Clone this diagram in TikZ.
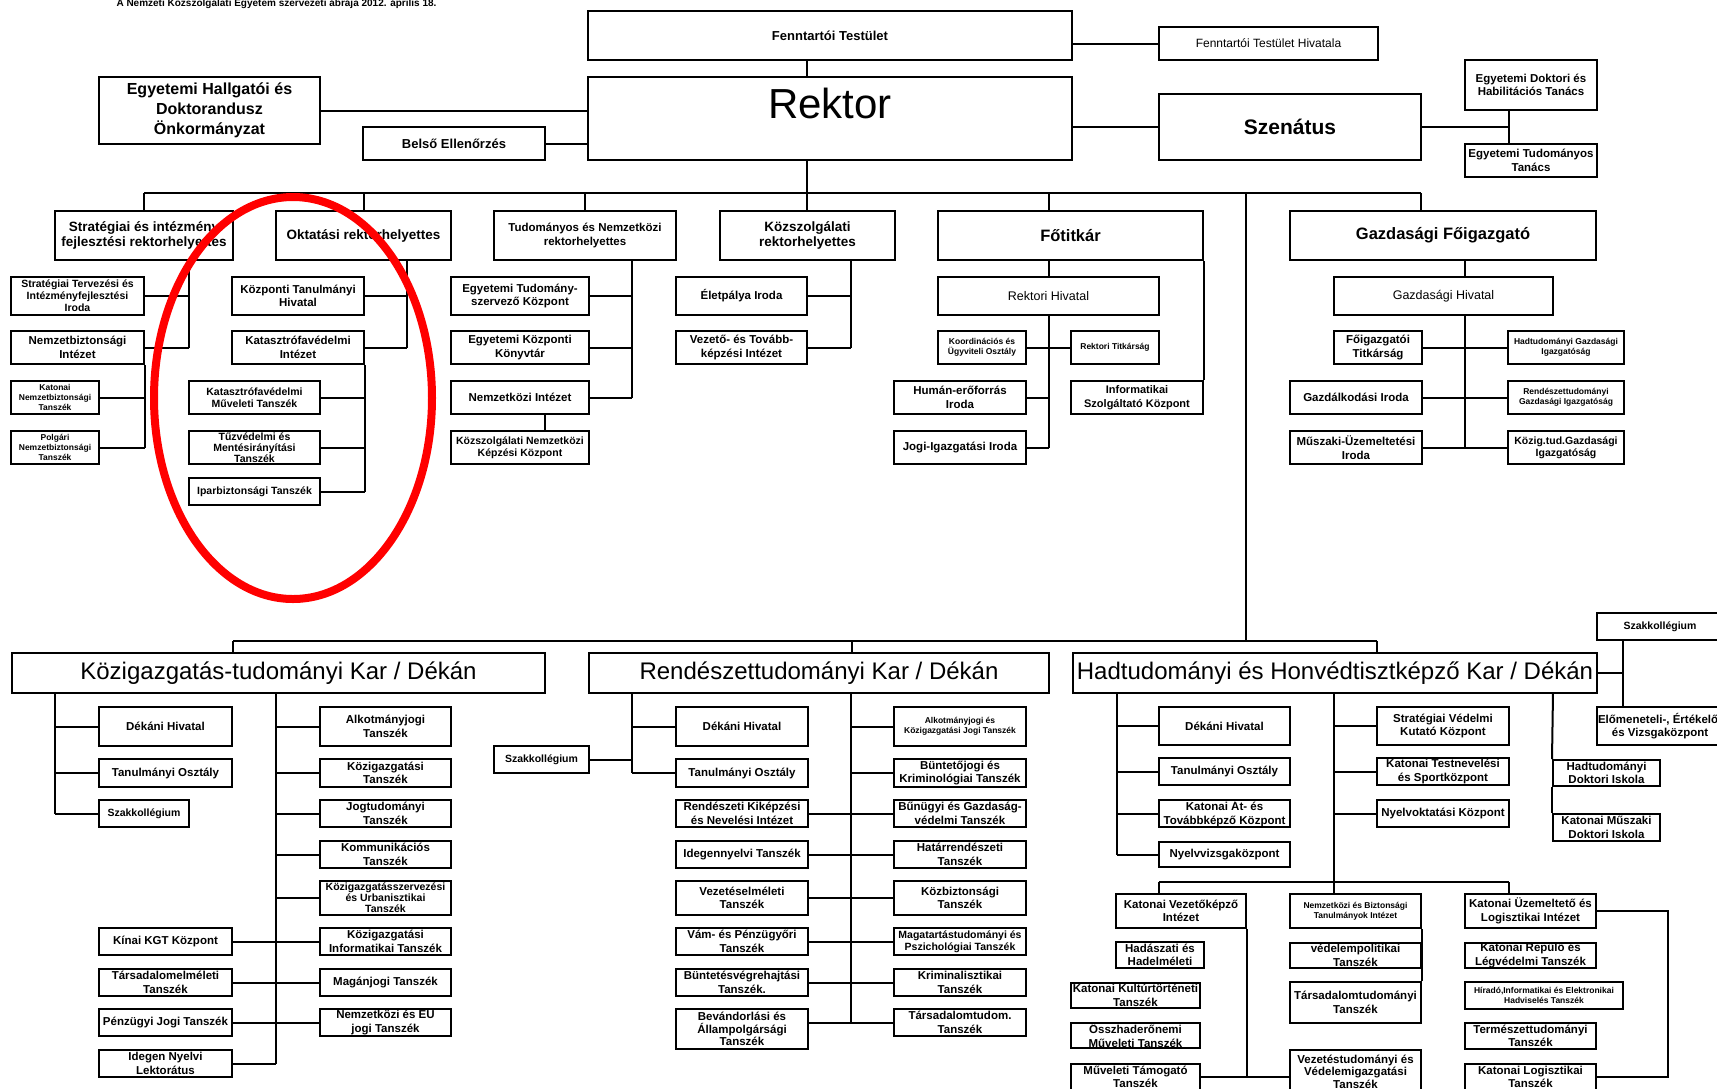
\documentclass[tikz,border=0pt]{standalone}
\usepackage{fontspec}
\setmainfont{Liberation Sans}

\begin{document}
\begin{tikzpicture}[x=1pt,y=-1pt,
  box/.style={draw,line width=2pt,inner sep=0.5pt,align=center,font=\bfseries\fontsize{11.5}{13.5}\selectfont},
  fsmall/.style={font=\bfseries\fontsize{10.5}{12}\selectfont},
  ftiny/.style={font=\bfseries\fontsize{8.5}{10}\selectfont},
  fplain/.style={font=\fontsize{12.5}{15}\selectfont},
  fkar/.style={font=\fontsize{24}{28}\selectfont},
  link/.style={line width=2pt}]
\useasboundingbox (0,0) rectangle (1717,1088);
\clip (0,0) rectangle (1717,1088);
\fill[white] (0,0) rectangle (1717,1088);

\node[font=\bfseries\fontsize{10}{12}\selectfont,anchor=base] (title) at (276.5,6.5) {A Nemzeti Közszolgálati Egyetem szervezeti ábrája 2012. április 18.};

% vezetes
\node[box,font=\bfseries\fontsize{13}{15}\selectfont,minimum width=484,minimum height=49] (fenn) at (830,35.5) {Fenntartói Testület};
\node[box,font=\fontsize{12}{14}\selectfont,minimum width=219,minimum height=33] (fennhiv) at (1268.5,43.5) {Fenntartói Testület Hivatala};
\node[box,font=\fontsize{42}{46}\selectfont,text height=30pt,text depth=30pt,minimum width=484,minimum height=83] (rektor) at (830,118.5) {Rektor};
\node[box,font=\bfseries\fontsize{21}{24}\selectfont,minimum width=262,minimum height=66] (szenatus) at (1290,127) {Szenátus};
\node[box,minimum width=132,minimum height=50] (doktori) at (1531,85) {Egyetemi Doktori és\\Habilitációs Tanács};
\node[box,minimum width=132,minimum height=33] (tudtanacs) at (1531,160.5) {Egyetemi Tudományos\\Tanács};
\node[box,font=\bfseries\fontsize{16}{20}\selectfont,minimum width=221,minimum height=67] (hallgatoi) at (209.5,110.5) {Egyetemi Hallgatói és\\Doktorandusz\\Önkormányzat};
\node[box,font=\bfseries\fontsize{13}{15}\selectfont,minimum width=182,minimum height=33] (belso) at (454,143.5) {Belső Ellenőrzés};

\node[box,font=\bfseries\fontsize{13.5}{15}\selectfont,minimum width=178,minimum height=49] (strat) at (144,235.5) {Stratégiai és intézmény\\fejlesztési rektorhelyettes};
\node[box,font=\bfseries\fontsize{13.5}{15}\selectfont,minimum width=175,minimum height=49] (oktatasi) at (363.5,235.5) {Oktatási rektorhelyettes};
\node[box,minimum width=182,minimum height=49] (tudnemz) at (585,235.5) {Tudományos és Nemzetközi\\rektorhelyettes};
\node[box,font=\bfseries\fontsize{13.5}{15}\selectfont,minimum width=175,minimum height=49] (kozszolg) at (807.5,235.5) {Közszolgálati\\rektorhelyettes};
\node[box,font=\bfseries\fontsize{16.5}{19}\selectfont,minimum width=265,minimum height=49] (fotitkar) at (1070.5,235.5) {Főtitkár};
\node[box,font=\bfseries\fontsize{16.5}{19}\selectfont,minimum width=306,minimum height=49] (gazd) at (1443,235.5) {Gazdasági Főigazgató};

\node[box,fsmall,minimum width=133,minimum height=38] (sti) at (77.5,296) {Stratégiai Tervezési és\\Intézményfejlesztési\\Iroda};
\node[box,minimum width=133,minimum height=33] (nbi) at (77.5,347.5) {Nemzetbiztonsági\\Intézet};
\node[box,ftiny,minimum width=88,minimum height=33] (knt) at (55,397.5) {Katonai\\Nemzetbiztonsági\\Tanszék};
\node[box,ftiny,minimum width=88,minimum height=33] (pnt) at (55,447.5) {Polgári\\Nemzetbiztonsági\\Tanszék};

\node[box,minimum width=132,minimum height=38] (kth) at (298,296) {Központi Tanulmányi\\Hivatal};
\node[box,minimum width=132,minimum height=33] (kvi) at (298,347.5) {Katasztrófavédelmi\\Intézet};
\node[box,fsmall,minimum width=131,minimum height=33] (kvm) at (254.5,397.5) {Katasztrófavédelmi\\Műveleti Tanszék};
\node[box,font=\bfseries\fontsize{10.5}{11}\selectfont,minimum width=131,minimum height=33] (tmt) at (254.5,447.5) {Tűzvédelmi és\\Mentésirányítási\\Tanszék};
\node[box,fsmall,minimum width=131,minimum height=27] (ipar) at (254.5,491.5) {Iparbiztonsági Tanszék};

\node[box,minimum width=138,minimum height=38] (etk) at (520,296) {Egyetemi Tudomány-\\szervező Központ};
\node[box,minimum width=138,minimum height=33] (ekk) at (520,347.5) {Egyetemi Központi\\Könyvtár};
\node[box,minimum width=138,minimum height=33] (nemzi) at (520,397.5) {Nemzetközi Intézet};
\node[box,fsmall,minimum width=138,minimum height=33] (knkk) at (520,447.5) {Közszolgálati Nemzetközi\\Képzési Központ};

\node[box,minimum width=131,minimum height=38] (eletpalya) at (741.5,296) {Életpálya Iroda};
\node[box,minimum width=131,minimum height=33] (vti) at (741.5,347.5) {Vezető- és Tovább-\\képzési Intézet};

\node[box,fplain,minimum width=221,minimum height=38] (rhiv) at (1048.5,296) {Rektori Hivatal};
\node[box,ftiny,minimum width=88,minimum height=33] (koord) at (982,347.5) {Koordinációs és\\Ügyviteli Osztály};
\node[box,ftiny,minimum width=88,minimum height=33] (rtit) at (1115,347.5) {Rektori Titkárság};
\node[box,minimum width=132,minimum height=33] (human) at (960,397.5) {Humán-erőforrás\\Iroda};
\node[box,minimum width=132,minimum height=33] (jogi) at (960,447.5) {Jogi-Igazgatási Iroda};
\node[box,font=\bfseries\fontsize{11}{13.5}\selectfont,minimum width=132,minimum height=33] (info) at (1137,397.5) {Informatikai\\Szolgáltató Központ};

\node[box,fplain,minimum width=219,minimum height=38] (ghiv) at (1443.5,296) {Gazdasági Hivatal};
\node[box,minimum width=88,minimum height=33] (fotit) at (1378,347.5) {Főigazgatói\\Titkárság};
\node[box,ftiny,minimum width=116,minimum height=33] (hgi) at (1566,347.5) {Hadtudományi Gazdasági\\Igazgatóság};
\node[box,minimum width=132,minimum height=33] (gazdi) at (1356,397.5) {Gazdálkodási Iroda};
\node[box,ftiny,minimum width=116,minimum height=33] (rgi) at (1566,397.5) {Rendészettudományi\\Gazdasági Igazgatóság};
\node[box,minimum width=132,minimum height=33] (muszaki) at (1356,447.5) {Műszaki-Üzemeltetési\\Iroda};
\node[box,fsmall,minimum width=116,minimum height=33] (kgi) at (1566,447.5) {Közig.tud.Gazdasági\\Igazgatóság};

% karok
\node[box,fkar,minimum width=533,minimum height=40] (kozig) at (278.5,673) {Közigazgatás-tudományi Kar / Dékán};
\node[box,fkar,minimum width=460,minimum height=40] (rend) at (819,673) {Rendészettudományi Kar / Dékán};
\node[box,fkar,minimum width=524,minimum height=40] (had) at (1335,673) {Hadtudományi és Honvédtisztképző Kar / Dékán};

\node[box,minimum width=133,minimum height=39] (kdh) at (165.5,726.5) {Dékáni Hivatal};
\node[box,minimum width=133,minimum height=28] (kto) at (165.5,773) {Tanulmányi Osztály};
\node[box,fsmall,minimum width=90,minimum height=27] (kszk) at (144,813.5) {Szakkollégium};
\node[box,minimum width=131,minimum height=39] (kalk) at (385.5,726.5) {Alkotmányjogi\\Tanszék};
\node[box,minimum width=131,minimum height=28] (kkoz) at (385.5,773) {Közigazgatási\\Tanszék};
\node[box,minimum width=131,minimum height=27] (kjog) at (385.5,813.5) {Jogtudományi\\Tanszék};
\node[box,minimum width=131,minimum height=27] (kkom) at (385.5,854.5) {Kommunikációs\\Tanszék};
\node[box,font=\bfseries\fontsize{10.5}{11}\selectfont,minimum width=131,minimum height=34] (kurb) at (385.5,898) {Közigazgatásszervezési\\és Urbanisztikai\\Tanszék};
\node[box,minimum width=131,minimum height=27] (kinf) at (385.5,941.5) {Közigazgatási\\Informatikai Tanszék};
\node[box,minimum width=131,minimum height=27] (kmag) at (385.5,982.5) {Magánjogi Tanszék};
\node[box,minimum width=131,minimum height=27] (knemz) at (385.5,1022.5) {Nemzetközi és EU\\jogi Tanszék};
\node[box,minimum width=133,minimum height=27] (kkinai) at (165.5,941.5) {Kínai KGT Központ};
\node[box,minimum width=133,minimum height=27] (ktars) at (165.5,982.5) {Társadalomelméleti\\Tanszék};
\node[box,minimum width=133,minimum height=27] (kpenz) at (165.5,1022.5) {Pénzügyi Jogi Tanszék};
\node[box,minimum width=133,minimum height=27] (kideg) at (165.5,1063.5) {Idegen Nyelvi\\Lektorátus};

\node[box,minimum width=132,minimum height=39] (rdh) at (742,726.5) {Dékáni Hivatal};
\node[box,minimum width=132,minimum height=28] (rto) at (742,773) {Tanulmányi Osztály};
\node[box,fsmall,minimum width=95,minimum height=27] (rszk) at (541.5,759.5) {Szakkollégium};
\node[box,minimum width=132,minimum height=27] (rkik) at (742,813.5) {Rendészeti Kiképzési\\és Nevelési Intézet};
\node[box,minimum width=132,minimum height=27] (rideg) at (742,854.5) {Idegennyelvi Tanszék};
\node[box,minimum width=132,minimum height=34] (rvez) at (742,898) {Vezetéselméleti\\Tanszék};
\node[box,minimum width=132,minimum height=27] (rvam) at (742,941.5) {Vám- és Pénzügyőri\\Tanszék};
\node[box,minimum width=132,minimum height=27] (rbv) at (742,982.5) {Büntetésvégrehajtási\\Tanszék.};
\node[box,font=\bfseries\fontsize{11.5}{12.5}\selectfont,minimum width=132,minimum height=40] (rbev) at (742,1029) {Bevándorlási és\\Állampolgársági\\Tanszék};
\node[box,ftiny,minimum width=132,minimum height=39] (ralk) at (960,726.5) {Alkotmányjogi és\\Közigazgatási Jogi Tanszék};
\node[box,minimum width=132,minimum height=28] (rbun) at (960,773) {Büntetőjogi és\\Kriminológiai Tanszék};
\node[box,minimum width=132,minimum height=27] (rbug) at (960,813.5) {Bűnügyi és Gazdaság-\\védelmi Tanszék};
\node[box,minimum width=132,minimum height=27] (rhat) at (960,854.5) {Határrendészeti\\Tanszék};
\node[box,minimum width=132,minimum height=34] (rkozb) at (960,898) {Közbiztonsági\\Tanszék};
\node[box,fsmall,minimum width=132,minimum height=27] (rmag) at (960,941.5) {Magatartástudományi és\\Pszichológiai Tanszék};
\node[box,minimum width=132,minimum height=27] (rkrim) at (960,982.5) {Kriminalisztikai\\Tanszék};
\node[box,minimum width=132,minimum height=27] (rtars) at (960,1022.5) {Társadalomtudom.\\Tanszék};

\node[box,minimum width=131,minimum height=38] (hdh) at (1224.5,726) {Dékáni Hivatal};
\node[box,minimum width=131,minimum height=27] (hto) at (1224.5,771.5) {Tanulmányi Osztály};
\node[box,minimum width=131,minimum height=27] (hatk) at (1224.5,813.5) {Katonai Át- és\\Továbbképző Központ};
\node[box,minimum width=131,minimum height=25] (hnyv) at (1224.5,854.5) {Nyelvvizsgaközpont};
\node[box,minimum width=132,minimum height=38] (hsvk) at (1443,726) {Stratégiai Védelmi\\Kutató Központ};
\node[box,minimum width=132,minimum height=27] (hkts) at (1443,771.5) {Katonai Testnevelési\\és Sportközpont};
\node[box,minimum width=132,minimum height=27] (hnyo) at (1443,813.5) {Nyelvoktatási Központ};
\node[box,minimum width=107,minimum height=26] (hdi) at (1606.5,773) {Hadtudományi\\Doktori Iskola};
\node[box,minimum width=107,minimum height=27] (kmdi) at (1606.5,827.5) {Katonai Műszaki\\Doktori Iskola};
\node[box,fsmall,minimum width=126,minimum height=27] (szkhad) at (1660,626.5) {Szakkollégium};
\node[box,minimum width=126,minimum height=38] (elom) at (1660,726) {Előmeneteli-, Értékelő-\\és Vizsgaközpont};

\node[box,minimum width=130,minimum height=34] (kvk) at (1181,911) {Katonai Vezetőképző\\Intézet};
\node[box,ftiny,minimum width=131,minimum height=34] (nbt) at (1355.5,911) {Nemzetközi és Biztonsági\\Tanulmányok Intézet};
\node[box,minimum width=131,minimum height=34] (kue) at (1530.5,911) {Katonai Üzemeltető és\\Logisztikai Intézet};
\node[box,minimum width=88,minimum height=26] (hadasz) at (1160,955) {Hadászati és\\Hadelméleti};
\node[box,minimum width=129,minimum height=25] (kultur) at (1135.5,995.5) {Katonai Kultúrtörténeti\\Tanszék};
\node[box,minimum width=129,minimum height=25] (osszh) at (1135.5,1035.5) {Összhaderőnemi\\Műveleti Tanszék};
\node[box,minimum width=129,minimum height=26] (mutam) at (1135.5,1077) {Műveleti Támogató\\Tanszék};
\node[box,minimum width=131,minimum height=25] (vedpol) at (1355.5,955.5) {védelempolitikai\\Tanszék};
\node[box,minimum width=131,minimum height=41] (tarsad) at (1355.5,1002.5) {Társadalomtudományi\\Tanszék};
\node[box,font=\bfseries\fontsize{11.5}{12.5}\selectfont,minimum width=131,minimum height=43] (vezet) at (1355.5,1071.5) {Vezetéstudományi és\\Védelemigazgatási\\Tanszék};
\node[box,minimum width=131,minimum height=25] (kreplo) at (1530.5,955.5) {Katonai Repülő és\\Légvédelmi Tanszék};
\node[box,ftiny,minimum width=158,minimum height=27] (hirado) at (1544,995.5) {Híradó,Informatikai és Elektronikai\\Hadviselés Tanszék};
\node[box,minimum width=131,minimum height=26] (termtud) at (1530.5,1036) {Természettudományi\\Tanszék};
\node[box,minimum width=131,minimum height=26] (klog) at (1530.5,1077) {Katonai Logisztikai\\Tanszék};

% felso vonalak
\coordinate (rx) at (807,193);
\coordinate (busl) at (144,193);
\coordinate (busr) at (1421,193);
\coordinate (sz) at (1509,127);
\draw[link] (rx |- fenn.south) -- (rx |- rektor.north);
\draw[link] (rx |- rektor.south) -- (rx);
\draw[link] (fennhiv.west) -- (fennhiv.west -| fenn.east);
\draw[link] (hallgatoi.east) -- (hallgatoi.east -| rektor.west);
\draw[link] (belso.east) -- (belso.east -| rektor.west);
\draw[link] (rektor.east |- szenatus.west) -- (szenatus.west);
\draw[link] (szenatus.east) -- (sz);
\draw[link] (sz |- doktori.south) -- (sz |- tudtanacs.north);
\draw[link] (busl) -- (busr);
\draw[link] (busl) -- (strat.north);
\draw[link] (oktatasi.north |- busl) -- (oktatasi.north);
\draw[link] (tudnemz.north |- busl) -- (tudnemz.north);
\draw[link] (rx) -- (rx |- kozszolg.north);
\draw[link] (rhiv.north |- busl) -- (rhiv.north |- fotitkar.north);
\draw[link] (busr) -- (busr |- gazd.north);

\coordinate (s1) at (189,348);
\draw[link] (s1 |- strat.south) -- (s1);
\draw[link] (sti.east) -- (sti.east -| s1);
\draw[link] (nbi.east) -- (nbi.east -| s1);
\draw[link] (nbi.south east) -- (nbi.south east |- pnt.east);
\draw[link] (knt.east) -- (knt.east -| nbi.east);
\draw[link] (pnt.east) -- (pnt.east -| nbi.east);

\coordinate (o1) at (407,348);
\draw[link] (o1 |- oktatasi.south) -- (o1);
\draw[link] (kth.east) -- (kth.east -| o1);
\draw[link] (kvi.east) -- (kvi.east -| o1);
\draw[link] (kvi.south east) -- (kvi.south east |- ipar.east);
\draw[link] (kvm.east) -- (kvm.east -| kvi.east);
\draw[link] (tmt.east) -- (tmt.east -| kvi.east);
\draw[link] (ipar.east) -- (ipar.east -| kvi.east);

\coordinate (t1) at (632,397.5);
\draw[link] (t1 |- tudnemz.south) -- (t1);
\draw[link] (etk.east) -- (etk.east -| t1);
\draw[link] (ekk.east) -- (ekk.east -| t1);
\draw[link] (nemzi.east) -- (t1);
\coordinate (t2) at (545,0);
\draw[link] (t2 |- nemzi.south) -- (t2 |- knkk.north);

\coordinate (z1) at (851,347.5);
\draw[link] (z1 |- kozszolg.south) -- (z1);
\draw[link] (eletpalya.east) -- (eletpalya.east -| z1);
\draw[link] (vti.east) -- (z1);

\coordinate (f1) at (1048.5,447.5);
\draw[link] (f1 |- fotitkar.south) -- (rhiv.north);
\draw[link] (rhiv.south) -- (f1);
\draw[link] (koord.east) -- (rtit.west);
\draw[link] (human.east) -- (human.east -| f1);
\draw[link] (jogi.east) -- (f1);
\draw[link] (fotitkar.south east) -- (info.north east);

\coordinate (g1) at (1465,447.5);
\draw[link] (g1 |- gazd.south) -- (g1 |- ghiv.north);
\draw[link] (g1 |- ghiv.south) -- (g1);
\draw[link] (fotit.east) -- (hgi.west);
\draw[link] (gazdi.east) -- (rgi.west);
\draw[link] (muszaki.east) -- (kgi.west);

% karok vonalai
\coordinate (lv) at (1246,193);
\coordinate (fbus) at (1246,641);
\coordinate (fl) at (233,641);
\coordinate (fm) at (852,641);
\coordinate (fr) at (1377,641);
\draw[link] (lv) -- (fbus);
\draw[link] (fl) -- (fr);
\draw[link] (fl) -- (fl |- kozig.north);
\draw[link] (fm) -- (fm |- rend.north);
\draw[link] (fr) -- (fr |- had.north);

\coordinate (k1) at (55,813.5);
\coordinate (k2) at (276,1063.5);
\draw[link] (k1 |- kozig.south) -- (k1);
\draw[link] (kdh.west) -- (kdh.west -| k1);
\draw[link] (kto.west) -- (kto.west -| k1);
\draw[link] (kszk.west) -- (k1);
\draw[link] (k2 |- kozig.south) -- (k2);
\foreach \n in {kalk,kkoz,kjog,kkom,kurb}
  \draw[link] (\n.west) -- (\n.west -| k2);
\draw[link] (kkinai.east) -- (kinf.west);
\draw[link] (ktars.east) -- (kmag.west);
\draw[link] (kpenz.east) -- (knemz.west);
\draw[link] (kideg.east) -- (k2);

\coordinate (r1) at (632,773);
\coordinate (r2) at (851,1022.5);
\draw[link] (r1 |- rend.south) -- (r1);
\draw[link] (rdh.west) -- (rdh.west -| r1);
\draw[link] (rto.west) -- (r1);
\draw[link] (rszk.east) -- (rszk.east -| r1);
\draw[link] (r2 |- rend.south) -- (r2);
\draw[link] (ralk.west) -- (ralk.west -| r2);
\draw[link] (rbun.west) -- (rbun.west -| r2);
\draw[link] (rkik.east) -- (rbug.west);
\draw[link] (rideg.east) -- (rhat.west);
\draw[link] (rvez.east) -- (rkozb.west);
\draw[link] (rvam.east) -- (rmag.west);
\draw[link] (rbv.east) -- (rkrim.west);
\draw[link] (rtars.west) -- (rtars.west -| rbev.east);

\coordinate (h1) at (1117,854.5);
\coordinate (h2) at (1334,882);
\coordinate (hb1) at (1159,882);
\coordinate (hb3) at (1509,882);
\coordinate (h3) at (1553,693);
\coordinate (h4) at (1623,673);
\coordinate (h6) at (1668,911);
\draw[link] (h1 |- had.south) -- (h1);
\foreach \n in {hdh,hto,hatk,hnyv}
  \draw[link] (\n.west) -- (\n.west -| h1);
\draw[link] (h2 |- had.south) -- (h2);
\foreach \n in {hsvk,hkts,hnyo}
  \draw[link] (\n.west) -- (\n.west -| h2);
\draw[link] (hb1) -- (hb3);
\draw[link] (hb1) -- (hb1 |- kvk.north);
\draw[link] (h2) -- (h2 |- nbt.north);
\draw[link] (hb3) -- (hb3 |- kue.north);
\draw[link] (h3) -- (hdi.north west);
\draw[link] (hdi.south west) -- (kmdi.north west);
\draw[link] (had.east) -- (h4);
\draw[link] (h4 |- szkhad.south) -- (h4 |- elom.north);
\draw[link] (kvk.south east) -- (kvk.south east |- mutam.east);
\draw[link] (mutam.east) -- (mutam.east -| vezet.west);
\draw[link] (nbt.south east) -- (tarsad.north east);
\draw[link] (kue.east) -- (h6) -- (h6 |- klog.east) -- (klog.east);

\draw[red,line width=8pt] (293,398) ellipse [x radius=139pt,y radius=201pt];
\end{tikzpicture}
\end{document}
